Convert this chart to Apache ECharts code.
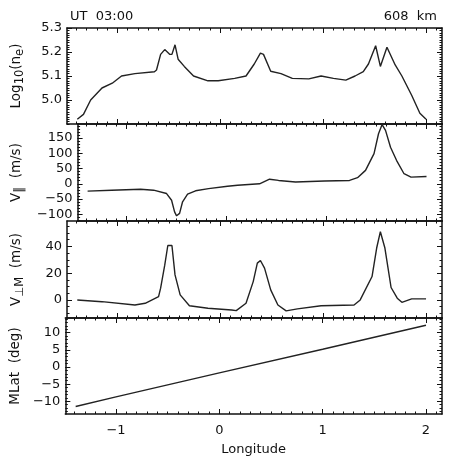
<!DOCTYPE html>
<html>
<head>
<meta charset="utf-8">
<script src="https://cdn.jsdelivr.net/npm/echarts@6/dist/echarts.min.js"></script>
<style>
  html, body { margin: 0; padding: 0; background: #fff; }
  #chart { width: 453px; height: 457px; }
</style>
</head>
<body>
<div id="chart"></div>
<script>
// longitude axis
const xRange = [-1.49, 2.155]
const xTicks = [-1, 0, 1, 2]

// Log10(ne)
const neLon = [-1.39, -1.33, -1.26, -1.15, -1.05, -0.96, -0.83, -0.64, -0.62, -0.58, -0.54, -0.49, -0.47, -0.44, -0.41, -0.35, -0.26, -0.12, -0.02, 0.14, 0.25, 0.33, 0.39, 0.42, 0.49, 0.59, 0.70, 0.86, 0.98, 1.10, 1.22, 1.31, 1.39, 1.44, 1.51, 1.556, 1.62, 1.70, 1.765, 1.86, 1.94, 2.0]
const neVal = [4.92, 4.94, 5.00, 5.05, 5.07, 5.10, 5.11, 5.118, 5.125, 5.19, 5.21, 5.19, 5.19, 5.23, 5.17, 5.14, 5.10, 5.08, 5.08, 5.09, 5.10, 5.15, 5.195, 5.19, 5.12, 5.11, 5.09, 5.088, 5.10, 5.09, 5.083, 5.10, 5.118, 5.15, 5.226, 5.14, 5.22, 5.146, 5.10, 5.02, 4.945, 4.92]

// V parallel (m/s)
const vparLon = [-1.39, -1.15, -0.86, -0.73, -0.60, -0.55, -0.52, -0.50, -0.47, -0.44, -0.39, -0.31, -0.18, 0.01, 0.11, 0.33, 0.43, 0.52, 0.69, 0.98, 1.23, 1.31, 1.39, 1.475, 1.52, 1.556, 1.59, 1.64, 1.70, 1.775, 1.845, 2.0]
const vparVal = [-24, -21, -18, -21, -32, -54, -92, -105, -97, -59, -34, -23, -16, -8, -5, 0, 15, 11, 6, 9, 11, 20, 44, 99, 164, 194, 175, 120, 77, 33, 22, 24]

// V perp M (m/s)
const vperLon = [-1.39, -1.15, -0.83, -0.73, -0.60, -0.58, -0.54, -0.51, -0.47, -0.44, -0.39, -0.30, -0.12, 0.11, 0.155, 0.25, 0.32, 0.36, 0.39, 0.43, 0.49, 0.56, 0.64, 0.75, 0.98, 1.30, 1.36, 1.475, 1.52, 1.556, 1.60, 1.66, 1.72, 1.765, 1.86, 2.0]
const vperVal = [0, -1.3, -3.8, -2.5, 2.5, 8.8, 26, 40.7, 40.7, 18.7, 3.8, -4.3, -6.2, -7.5, -8, -2.5, 13.7, 27.5, 29.5, 23.8, 7.5, -3.8, -8.2, -6.7, -4.3, -3.8, 0, 17.5, 38.8, 51, 38.8, 9.3, 1.3, -1.8, 0.8, 0.8]

// MLat (deg)
const mlatLon = [-1.39, -1, 0, 1, 2.0]
const mlatVal = [-11.5, -8.7, -1.7, 5.2, 12.2]

const panels = [
  { top: 28, height: 96, min: 4.9, max: 5.3, ticks: [5.0, 5.1, 5.2, 5.3], minorStep: 0.01, dec: 1,
    name: '{a|Log}{s|10}{a|(n}{s|e}{a|)}', gap: 41, lon: neLon, val: neVal },
  { top: 124, height: 97, min: -122, max: 196, ticks: [-100, -50, 0, 50, 100, 150], minorStep: 10, dec: 0,
    name: '{a|V}{s|‖}{a|  (m/s)}', gap: 41, lon: vparLon, val: vparVal },
  { top: 221, height: 97, min: -13.5, max: 59, ticks: [0, 20, 40], minorStep: 5, dec: 0,
    name: '{a|V}{s|⊥M}{a|  (m/s)}', gap: 41, lon: vperLon, val: vperVal },
  { top: 318, height: 96, min: -13.7, max: 14.3, ticks: [-10, -5, 0, 5, 10], minorStep: 1, dec: 0,
    name: '{a|MLat  (deg)}', gap: 35, lon: mlatLon, val: mlatVal }
]

const FONT = 'DejaVu Sans'
const INK = '#111'

// minor tick positions between min and max
const minorTicks = (min, max, step) => {
  const out = []
  const start = Math.ceil(min / step - 1e-9)
  for (let k = start; k * step <= max + 1e-9; k++) out.push(+(k * step).toFixed(6))
  return out
}

const fmt = (v, dec) => v.toFixed(dec).replace('-', '\u2212')

const chart = echarts.init(document.getElementById('chart'))

const grid = []
const xAxis = []
const yAxis = []
const series = []

panels.forEach((p, i) => {
  grid.push({ left: 65, right: 11, top: p.top, height: p.height })
  const last = i === panels.length - 1
  const xMinor = minorTicks(xRange[0], xRange[1], 0.1)

  // x axes: bottom major, bottom minor, top major, top minor
  ;[['bottom', xTicks, 5], ['bottom', xMinor, 2.5], ['top', xTicks, 5], ['top', xMinor, 2.5]].forEach(([pos, vals, len], k) => {
    xAxis.push({
      type: 'value', gridIndex: i, position: pos, min: xRange[0], max: xRange[1],
      axisLine: { show: k === 0 || k === 2, onZero: false, lineStyle: { color: INK, width: 1.5 } },
      axisTick: { show: true, inside: true, length: len, customValues: vals, lineStyle: { color: INK, width: 1 } },
      axisLabel: {
        show: last && k === 0, customValues: xTicks, margin: 10,
        fontFamily: FONT, fontSize: 13, color: INK, formatter: v => fmt(v, 0)
      },
      splitLine: { show: false },
      name: last && k === 0 ? 'Longitude' : '',
      nameLocation: 'middle', nameGap: 29,
      nameTextStyle: { fontFamily: FONT, fontSize: 13, color: INK }
    })
  })

  // y axes: left major, left minor, right major, right minor
  const yMinor = minorTicks(p.min, p.max, p.minorStep)
  const yBase = yAxis.length
  ;[['left', p.ticks, 5], ['left', yMinor, 2.5], ['right', p.ticks, 5], ['right', yMinor, 2.5]].forEach(([pos, vals, len], k) => {
    yAxis.push({
      type: 'value', gridIndex: i, position: pos, min: p.min, max: p.max,
      axisLine: { show: k === 0 || k === 2, onZero: false, lineStyle: { color: INK, width: 1.5 } },
      axisTick: { show: true, inside: true, length: len, customValues: vals, lineStyle: { color: INK, width: 1 } },
      axisLabel: {
        show: k === 0, customValues: p.ticks, margin: 5,
        fontFamily: FONT, fontSize: 13, color: INK, formatter: v => fmt(v, p.dec)
      },
      splitLine: { show: false },
      name: k === 0 ? p.name : '',
      nameLocation: 'middle', nameGap: p.gap, nameRotate: 90,
      nameTextStyle: {
        fontFamily: FONT, color: INK,
        rich: {
          a: { fontFamily: FONT, fontSize: 13.5, color: INK, lineHeight: 19, verticalAlign: 'middle' },
          s: { fontFamily: FONT, fontSize: 11.5, color: INK, lineHeight: 19, verticalAlign: 'bottom', padding: [6, 0, 0, 0] }
        }
      }
    })
  })

  series.push({
    type: 'line',
    xAxisIndex: i * 4,
    yAxisIndex: yBase,
    data: p.lon.map((x, j) => [x, p.val[j]]),
    showSymbol: false,
    lineStyle: { color: '#222', width: 1.4 },
    clip: true,
    animation: false
  })
})

chart.setOption({
  animation: false,
  title: [
    { text: 'UT  03:00', left: 65, top: 5, textStyle: { fontFamily: FONT, fontSize: 13, fontWeight: 'normal', color: INK } },
    { text: '608  km', right: 11, top: 5, textStyle: { fontFamily: FONT, fontSize: 13, fontWeight: 'normal', color: INK } }
  ],
  grid,
  xAxis,
  yAxis,
  series
})
</script>
</body>
</html>
